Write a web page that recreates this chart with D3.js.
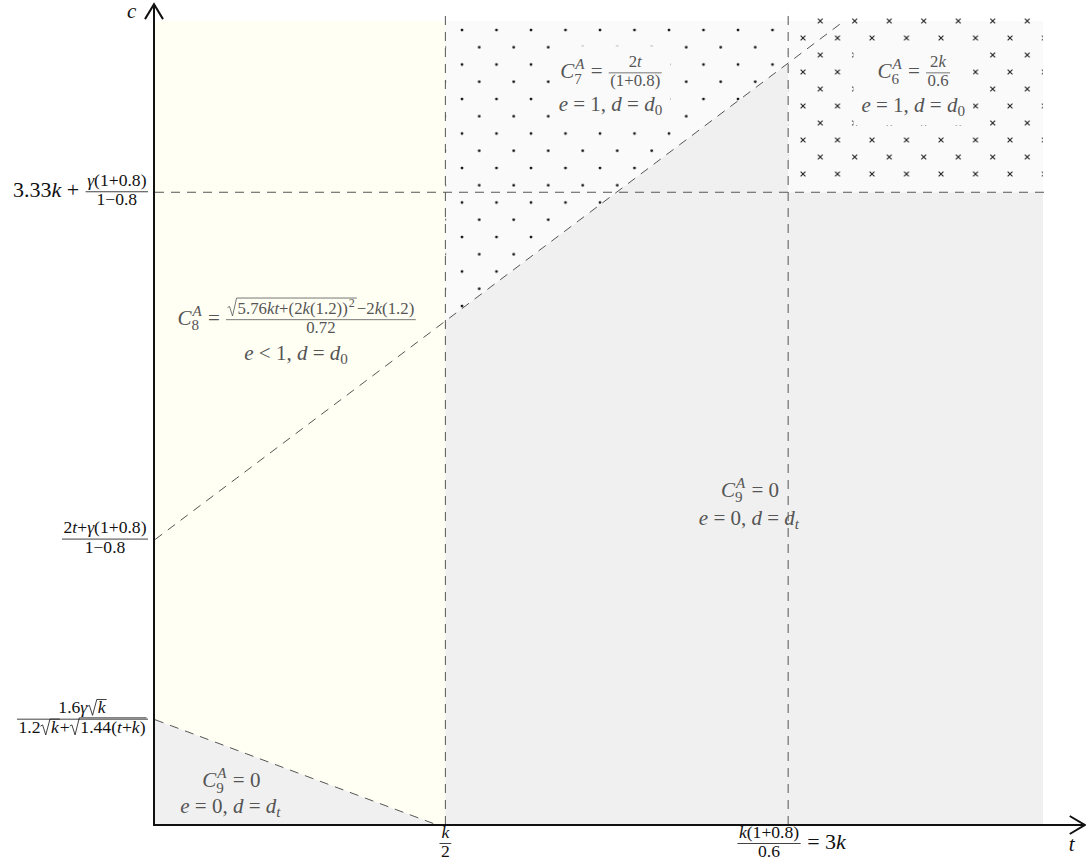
<!DOCTYPE html>
<html>
<head>
<meta charset="utf-8">
<script src="https://cdn.jsdelivr.net/npm/d3@7"></script>
<style>
  body { margin: 0; background: #fff; }
  text { font-family: 'Liberation Serif', 'DejaVu Serif', serif; white-space: pre; }
</style>
</head>
<body>
<svg id="chart" width="1086" height="867"></svg>
<script>
// schematic axis positions (t and c are drawn on a unitless 0..1 scale)
const tThresholds = [0.327, 0.713];          // k/2, 3k
const cLevels = [0.131, 0.355, 0.787];       // lower bound, diagonal intercept, 3.33k level
const lowerBoundary = [[0, 0.131], [0.318, 0]];
const diagonalBoundary = [[0, 0.355], [0.776, 1]];

// tick labels (math pieces: strings, {num,den}, {sqrt}, {sup,sub})
const tTickLabels = [
  [{num: ["k"], den: ["2"]}],
  [{num: ["k(1+0.8)"], den: ["0.6"]}, " = 3k"]
];
const cTickLabels = [
  [{num: ["1.6γ", {sqrt: ["k"]}], den: ["1.2", {sqrt: ["k"]}, "+", {sqrt: ["1.44(t+k)"], top: 0.85}]}],
  [{num: ["2t+γ(1+0.8)"], den: ["1−0.8"]}],
  ["3.33k + ", {num: ["γ(1+0.8)"], den: ["1−0.8"]}]
];

// region labels: anchor t, baselines c, lines
const regionNames = ["C8", "C7", "C6", "C9", "C9low"];
const regionAnchorT = [0.160, 0.514, 0.855, 0.670, 0.086];
const regionAnchorC = [[0.622, 0.578], [0.929, 0.888], [0.929, 0.887], [0.408, 0.373], [0.047, 0.015]];
const regionLines = [
  [["C", {sup: "A", sub: "8"}, " = ", {num: [{sqrt: ["5.76kt+(2k(1.2))", {sup: "2"}], top: 0.95}, "−2k(1.2)"], den: ["0.72"]}],
   ["e < 1, d = d", {sub: "0"}]],
  [["C", {sup: "A", sub: "7"}, " = ", {num: ["2t"], den: ["(1+0.8)"]}],
   ["e = 1, d = d", {sub: "0"}]],
  [["C", {sup: "A", sub: "6"}, " = ", {num: ["2k"], den: ["0.6"]}],
   ["e = 1, d = d", {sub: "0"}]],
  [["C", {sup: "A", sub: "9"}, " = 0"],
   ["e = 0, d = d", {sub: "t"}]],
  [["C", {sup: "A", sub: "9"}, " = 0"],
   ["e = 0, d = d", {sub: "t"}]]
];

const svg = d3.select("#chart");
const x = d3.scaleLinear().domain([0, 1]).range([155, 1043]);
const y = d3.scaleLinear().domain([0, 1]).range([825, 21]);

const yellow = "#fffff4", grey = "#f0f0f0", light = "#fafafa";

// pattern fills
const defs = svg.append("defs");
const dots = defs.append("pattern").attr("id", "dots")
  .attr("patternUnits", "userSpaceOnUse").attr("width", 34.5).attr("height", 34.5)
  .attr("x", 457).attr("y", 25);
[[5, 5], [22.25, 22.25]].forEach(p => dots.append("circle").attr("cx", p[0]).attr("cy", p[1]).attr("r", 1.4).attr("fill", "#111"));

const crosses = defs.append("pattern").attr("id", "crosses")
  .attr("patternUnits", "userSpaceOnUse").attr("width", 34.5).attr("height", 34)
  .attr("x", 798).attr("y", 33);
[[5, 5], [22.25, 22]].forEach(p => crosses.append("path")
  .attr("d", `M${p[0] - 2.4},${p[1] - 2.4}L${p[0] + 2.4},${p[1] + 2.4}M${p[0] - 2.4},${p[1] + 2.4}L${p[0] + 2.4},${p[1] - 2.4}`)
  .attr("stroke", "#222").attr("stroke-width", 1.1));

// line helpers
const diag = t => diagonalBoundary[0][1] + (diagonalBoundary[1][1] - diagonalBoundary[0][1]) * t / diagonalBoundary[1][0];
const poly = pts => pts.map(p => [x(p[0]), y(p[1])].join(",")).join(" ");
const [tA, tB] = tThresholds;
const cTop = cLevels[2];

// regions
svg.append("polygon").attr("points", poly([[0, 0], [0, 1], [tA, 1], [tA, 0]])).attr("fill", yellow);
svg.append("polygon").attr("points", poly([[0, 0], lowerBoundary[0], lowerBoundary[1]])).attr("fill", grey);
svg.append("polygon").attr("points", poly([[tA, 0], [tA, diag(tA)], [tB, diag(tB)], [tB, cTop], [1, cTop], [1, 0]])).attr("fill", grey);
const dotRegion = [[tA, diag(tA)], [tA, 1], [tB, 1], [tB, diag(tB)]];
const crossRegion = [[tB, cTop], [tB, 1], [1, 1], [1, cTop]];
svg.append("polygon").attr("points", poly(dotRegion)).attr("fill", light);
svg.append("polygon").attr("points", poly(dotRegion)).attr("fill", "url(#dots)");
svg.append("polygon").attr("points", poly(crossRegion)).attr("fill", light);
svg.append("polygon").attr("points", poly([[tB, cTop + 0.008], [tB, 1.01], [1, 1.01], [1, cTop + 0.008]])).attr("fill", "url(#crosses)");

// dashed boundaries
const dashed = (pts) => svg.append("path")
  .attr("d", d3.line().x(d => x(d[0])).y(d => y(d[1]))(pts))
  .attr("fill", "none").attr("stroke", "#555").attr("stroke-width", 1).attr("stroke-dasharray", "9,7");
dashed(diagonalBoundary);
dashed(lowerBoundary);
dashed([[0, cTop], [1.009, cTop]]);
tThresholds.forEach(t => dashed([[t, 0], [t, 1.015]]));

// math text rendering
const SCRIPT = 0.8;
function word(g, str, px, py, size) {
  const t = g.append("text").attr("x", px).attr("y", py).attr("font-size", size);
  const runs = [];
  for (const ch of str) {
    const it = /[a-zA-Zγ]/.test(ch);
    if (runs.length && runs[runs.length - 1].it === it) runs[runs.length - 1].s += ch;
    else runs.push({s: ch, it});
  }
  runs.forEach(r => t.append("tspan").attr("font-style", r.it ? "italic" : "normal").text(r.s));
  return t.node().getComputedTextLength();
}

function render(g, items, size) {
  let px = 0;
  items.forEach(it => {
    if (typeof it === "string") {
      px += word(g, it, px, 0, size);
    } else if (it.num) {
      const fs = size * SCRIPT, bar = -0.25 * size;
      const gn = g.append("g"), gd = g.append("g");
      const wn = render(gn, it.num, fs), wd = render(gd, it.den, fs);
      const w = Math.max(wn, wd) + 3;
      gn.attr("transform", `translate(${px + 1 + (w - wn) / 2},${bar - 0.27 * size})`);
      gd.attr("transform", `translate(${px + 1 + (w - wd) / 2},${bar + 0.62 * size})`);
      g.append("line").attr("x1", px + 1).attr("x2", px + w + 1).attr("y1", bar).attr("y2", bar)
        .attr("stroke", "currentColor").attr("stroke-width", 0.8);
      px += w + 2;
    } else if (it.sqrt) {
      const rw = 0.6 * size;
      const gi = g.append("g");
      const wi = render(gi, it.sqrt, size);
      gi.attr("transform", `translate(${px + rw},0)`);
      const top = -(it.top || 0.78) * size;
      g.append("path")
        .attr("d", `M${px},${-0.38 * size}L${px + 0.12 * size},${-0.45 * size}L${px + 0.3 * size},${0.12 * size}L${px + rw - 0.06 * size},${top}H${px + rw + wi + 1}`)
        .attr("fill", "none").attr("stroke", "currentColor").attr("stroke-width", 0.8);
      px += rw + wi + 1;
    } else {
      const fs = size * 0.72;
      let w = 0;
      if (it.sup) w = Math.max(w, word(g, it.sup, px + 1, it.sub ? -0.42 * size : -0.4 * size, fs));
      if (it.sub) w = Math.max(w, word(g, it.sub, px, it.sup ? 0.26 * size : 0.2 * size, fs));
      px += w + 2;
    }
  });
  return px;
}

function label(items, size, col, px, py, anchor) {
  const g = svg.append("g").attr("fill", col).style("color", col);
  const w = render(g, items, size);
  const dx = anchor === "end" ? -w : anchor === "middle" ? -w / 2 : 0;
  g.attr("transform", `translate(${px + dx},${py})`);
  return g;
}

// region labels (pattern regions get a background box)
regionNames.forEach((name, i) => {
  const boxed = name === "C7" || name === "C6";
  const gs = regionLines[i].map((ln, j) =>
    label(ln, 21, "#555", x(regionAnchorT[i]), y(regionAnchorC[i][j]), "middle"));
  if (boxed) {
    const bbs = gs.map(g => {
      const b = g.node().getBBox();
      const m = g.node().transform.baseVal.consolidate().matrix;
      return [b.x + m.e, b.y + m.f, b.x + m.e + b.width, b.y + m.f + b.height];
    });
    const x0 = d3.min(bbs, b => b[0]) - 8, y0 = d3.min(bbs, b => b[1]) - 6;
    const x1 = d3.max(bbs, b => b[2]) + 8, y1 = d3.max(bbs, b => b[3]) + 6;
    svg.insert("rect", () => gs[0].node())
      .attr("x", x0).attr("y", y0).attr("width", x1 - x0).attr("height", y1 - y0).attr("fill", light);
  }
});

// axes with open arrow heads
const axisCol = "#111";
svg.append("line").attr("x1", x(0) - 1).attr("x2", x(0) - 1).attr("y1", y(0) + 1).attr("y2", y(1.021))
  .attr("stroke", axisCol).attr("stroke-width", 2);
svg.append("line").attr("x1", x(0) - 2).attr("x2", x(1.047)).attr("y1", y(0)).attr("y2", y(0))
  .attr("stroke", axisCol).attr("stroke-width", 2);
const ty = y(1.021), tx = x(1.047);
svg.append("path").attr("d", `M${x(0) - 10},${ty + 15}L${x(0) - 1},${ty}L${x(0) + 8},${ty + 15}`)
  .attr("fill", "none").attr("stroke", axisCol).attr("stroke-width", 2).attr("stroke-linejoin", "miter");
svg.append("path").attr("d", `M${tx - 15},${y(0) - 9}L${tx},${y(0)}L${tx - 15},${y(0) + 9}`)
  .attr("fill", "none").attr("stroke", axisCol).attr("stroke-width", 2).attr("stroke-linejoin", "miter");

label(["c"], 21, "#111", x(0) - 28, ty + 14, "start");
label(["t"], 21, "#111", tx - 16, y(0) + 26, "start");

// tick labels
cLevels.forEach((c, i) => label(cTickLabels[i], 22, "#111", x(0) - 6, y(c) + 5, "end"));
tThresholds.forEach((t, i) => label(tTickLabels[i], 22, "#111", x(t) + (i ? 3 : 0), y(0) + 24, "middle"));
</script>
</body>
</html>
